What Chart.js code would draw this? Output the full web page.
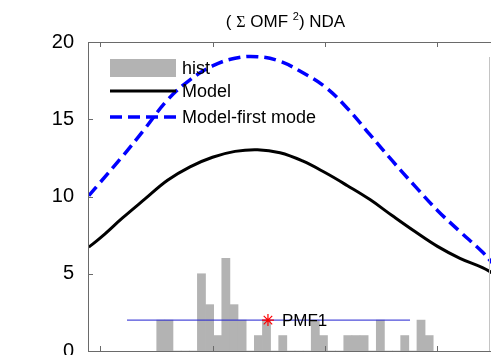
<!DOCTYPE html>
<html>
<head>
<meta charset="utf-8">
<script src="https://cdn.jsdelivr.net/npm/chart.js@4.4.1/dist/chart.umd.min.js"></script>
<style>
  html, body { margin: 0; padding: 0; background: #fff; overflow: hidden; }
  #wrap { position: relative; width: 491px; height: 355px; }
</style>
</head>
<body>
<div id="wrap"><canvas id="omf-chart"></canvas></div>
<script>
// ── Data ──

// Model curves, sampled along the x axis
var CURVE_X = [-0.1, 0, 0.2, 0.4, 0.6, 0.8, 1.0, 1.2, 1.4, 1.6, 1.8, 2.0, 2.2, 2.4, 2.6, 2.8, 3.0, 3.2, 3.4, 3.5];
var MODEL = [6.72, 7.3, 8.61, 9.84, 11.05, 11.92, 12.54, 12.92, 13.03, 12.83, 12.3, 11.55, 10.7, 9.8, 8.75, 7.73, 6.77, 6.0, 5.4, 5.0];
var MODEL_FIRST_MODE = [10.05, 10.9, 12.6, 14.4, 16.25, 17.55, 18.45, 18.95, 19.05, 18.75, 18.02, 17.1, 15.7, 14.0, 12.3, 10.67, 9.1, 7.73, 6.4, 5.6];

// Histogram of observations: equal-width bins from HIST_START
var HIST_START = 0.504;
var HIST_BIN = 0.0723;
var HIST_COUNTS = [2, 2, 0, 0, 0, 5, 3, 1, 6, 3, 2, 0, 1, 2, 0, 1, 0, 0, 0, 2, 1, 0, 0, 1, 1, 1, 0, 2, 0, 0, 1, 0, 2, 1];

// PMF1 marker and its range bar
var PMF_SPAN = [0.24, 2.756];
var PMF_X = 1.493;
var PMF_Y = 2;
var PMF_LABEL = 'PMF1';

var X_TICKS = [0, 1, 2, 3];
var Y_TICKS = [0, 5, 10, 15, 20];
var X_MIN = -0.107;
var X_MAX = 3.476;

var LEGEND_LABELS = ['hist', 'Model', 'Model-first mode'];

var AXIS_COLOR = '#6a6a6a';
var HIST_COLOR = '#b3b3b3';
var FONT = 'Arial, "Liberation Sans", Helvetica, sans-serif';

function pts(xs, ys) {
  return xs.map(function (x, i) { return { x: x, y: ys[i] }; });
}

var histData = HIST_COUNTS.map(function (c, i) {
  return { x: HIST_START + (i + 0.5) * HIST_BIN, y: c };
});

// ── Frame, ticks, legend, title ──

var matlabAxes = {
  id: 'matlabAxes',
  afterDatasetsDraw: function (chart) {
    var ctx = chart.ctx;
    var a = chart.chartArea;
    var xs = chart.scales.x;
    var ys = chart.scales.y;

    ctx.save();

    // axes box
    ctx.strokeStyle = AXIS_COLOR;
    ctx.lineWidth = 1;
    ctx.beginPath();
    ctx.moveTo(a.left + 0.5, a.top + 0.5);
    ctx.lineTo(a.right, a.top + 0.5);
    ctx.moveTo(a.left + 0.5, a.top);
    ctx.lineTo(a.left + 0.5, a.bottom + 0.5);
    ctx.lineTo(a.right, a.bottom + 0.5);
    ctx.stroke();

    ctx.strokeStyle = '#c4c4c4';
    ctx.beginPath();
    ctx.moveTo(a.right - 1.5, a.top + 15);
    ctx.lineTo(a.right - 1.5, a.bottom);
    ctx.stroke();

    // inward tick marks
    ctx.strokeStyle = AXIS_COLOR;
    ctx.beginPath();
    X_TICKS.forEach(function (v) {
      var px = Math.round(xs.getPixelForValue(v)) + 0.5;
      ctx.moveTo(px, a.top);
      ctx.lineTo(px, a.top + 5);
      ctx.moveTo(px, a.bottom);
      ctx.lineTo(px, a.bottom - 5);
    });
    Y_TICKS.forEach(function (v) {
      var py = Math.round(ys.getPixelForValue(v)) + 0.5;
      ctx.moveTo(a.left, py);
      ctx.lineTo(a.left + 5, py);
    });
    ctx.stroke();

    // PMF label next to the marker
    ctx.fillStyle = '#000';
    ctx.font = '17px ' + FONT;
    ctx.textBaseline = 'middle';
    ctx.textAlign = 'left';
    ctx.fillText(PMF_LABEL, xs.getPixelForValue(PMF_X) + 14, ys.getPixelForValue(PMF_Y) + 1);

    // legend
    var lx = a.left + 22;
    var tx = a.left + 94;
    ctx.fillStyle = HIST_COLOR;
    ctx.fillRect(lx, a.top + 17, 66, 18);

    ctx.lineWidth = 3;
    ctx.strokeStyle = '#000';
    ctx.beginPath();
    ctx.moveTo(lx, a.top + 49);
    ctx.lineTo(lx + 66, a.top + 49);
    ctx.stroke();

    ctx.lineWidth = 3.5;
    ctx.strokeStyle = '#0000ff';
    ctx.setLineDash([12, 6]);
    ctx.beginPath();
    ctx.moveTo(lx, a.top + 75);
    ctx.lineTo(lx + 66, a.top + 75);
    ctx.stroke();
    ctx.setLineDash([]);

    ctx.fillStyle = '#000';
    ctx.font = '18px ' + FONT;
    ctx.fillText(LEGEND_LABELS[0], tx, a.top + 27);
    ctx.fillText(LEGEND_LABELS[1], tx, a.top + 50);
    ctx.fillText(LEGEND_LABELS[2], tx, a.top + 76);

    // title: ( Σ OMF ²) NDA
    var parts = [
      { t: '( ', f: '17px ' + FONT, dy: 0 },
      { t: 'Σ', f: '16px "Liberation Serif", "Times New Roman", serif', dy: 0 },
      { t: ' OMF ', f: '17px ' + FONT, dy: 0 },
      { t: '2', f: '11px ' + FONT, dy: -7 },
      { t: ') NDA', f: '17px ' + FONT, dy: 0 }
    ];
    var total = 0;
    parts.forEach(function (p) { ctx.font = p.f; p.w = ctx.measureText(p.t).width; total += p.w; });
    var cx = (a.left + a.right) / 2 - total / 2 - 4;
    ctx.textBaseline = 'alphabetic';
    parts.forEach(function (p) {
      ctx.font = p.f;
      ctx.fillText(p.t, cx, 27 + p.dy);
      cx += p.w;
    });

    ctx.restore();
  }
};

// ── Chart ──

new Chart(document.getElementById('omf-chart').getContext('2d'), {
  type: 'bar',
  data: {
    datasets: [
      {
        type: 'bar',
        label: 'hist',
        data: histData,
        backgroundColor: HIST_COLOR,
        borderWidth: 0,
        barPercentage: 1,
        categoryPercentage: 1,
        grouped: false,
        order: 5
      },
      {
        type: 'line',
        label: 'Model',
        data: pts(CURVE_X, MODEL),
        borderColor: '#000',
        borderWidth: 3,
        pointRadius: 0,
        tension: 0.4,
        fill: false,
        order: 2
      },
      {
        type: 'line',
        label: 'Model-first mode',
        data: pts(CURVE_X, MODEL_FIRST_MODE),
        borderColor: '#0000ff',
        borderWidth: 3.5,
        borderDash: [12, 6],
        pointRadius: 0,
        tension: 0.4,
        fill: false,
        order: 1
      },
      {
        type: 'line',
        label: 'PMF1 range',
        data: [{ x: PMF_SPAN[0], y: PMF_Y }, { x: PMF_SPAN[1], y: PMF_Y }],
        borderColor: '#2020d0',
        borderWidth: 1,
        pointRadius: 0,
        fill: false,
        order: 1
      },
      {
        type: 'line',
        label: PMF_LABEL,
        data: [{ x: PMF_X, y: PMF_Y }],
        showLine: false,
        pointStyle: 'star',
        pointRadius: 6,
        pointBorderColor: '#ff0000',
        pointBorderWidth: 1.2,
        order: 0
      }
    ]
  },
  options: {
    responsive: true,
    maintainAspectRatio: false,
    animation: false,
    layout: { autoPadding: false, padding: { top: 42, bottom: 4, left: 0, right: 0 } },
    plugins: {
      legend: { display: false },
      title: { display: false },
      tooltip: { enabled: false }
    },
    scales: {
      x: {
        type: 'linear',
        min: X_MIN,
        max: X_MAX,
        offset: false,
        grid: { display: false, offset: false },
        border: { display: false },
        ticks: { display: false },
        afterBuildTicks: function (s) { s.ticks = X_TICKS.map(function (v) { return { value: v }; }); },
        afterFit: function (s) { s.height = 0; s.paddingLeft = 0; s.paddingRight = 0; }
      },
      y: {
        min: 0,
        max: 20,
        grid: { display: false },
        border: { display: false },
        ticks: {
          color: '#000',
          padding: 6,
          font: { size: 20, family: FONT }
        },
        afterBuildTicks: function (s) { s.ticks = Y_TICKS.map(function (v) { return { value: v }; }); },
        afterFit: function (s) { s.width = 88; s.paddingTop = 0; s.paddingBottom = 0; }
      }
    }
  },
  plugins: [matlabAxes]
});
</script>
</body>
</html>
